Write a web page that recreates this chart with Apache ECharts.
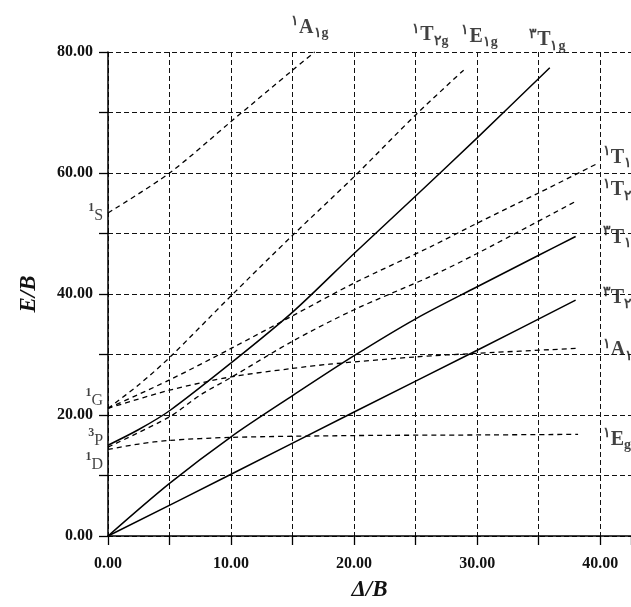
<!DOCTYPE html>
<html>
<head>
<meta charset="utf-8">
<script src="https://cdn.jsdelivr.net/npm/echarts@6/dist/echarts.min.js"></script>
<style>
  html, body { margin: 0; padding: 0; background: #fff; }
  #main { width: 631px; height: 607px; }
</style>
</head>
<body>
<div id="main"></div>
<script>
// solid lines (triplets) [Δ/B, E/B]
var t1gP = [[0, 15.0], [2.5, 17.6], [5, 20.7], [10, 28.6], [15, 37.0], [20, 46.7], [25, 56.2], [30, 65.8], [35.9, 77.4]];
var t1gF = [[0, 0], [5, 8.7], [10, 16.4], [15, 23.2], [20, 29.8], [25, 35.9], [30, 41.2], [35, 46.4], [38, 49.5]];
var t2gF = [[0, 0], [10, 10.2], [20, 20.5], [30, 30.7], [38, 39.0]];

// dashed lines (singlets)
var a1gS = [[0, 53.4], [5, 60.0], [10, 68.5], [15, 77.0], [16.8, 80]];
var t2gTop = [[0, 21.1], [2.5, 25.0], [5, 29.5], [10, 39.7], [15, 49.7], [20, 59.4], [25, 69.6], [28.9, 77.0]];
var t1gRight = [[0, 21.1], [5, 25.8], [10, 31.0], [15, 36.4], [20, 41.8], [26.2, 47.8], [30, 51.7], [35, 56.7], [39.8, 61.6]];
var t2gRight = [[0, 14.7], [5, 19.7], [7.5, 23.3], [10, 26.2], [15, 32.2], [20, 37.4], [26.2, 42.9], [30, 46.7], [38, 55.3]];
var a1gRight = [[0, 21.1], [5, 24.1], [10, 26.3], [15, 27.7], [18, 28.4], [25, 29.6], [30, 30.2], [38, 31.0]];
var egRight = [[0, 14.3], [2.5, 15.2], [5, 15.8], [10, 16.3], [20, 16.6], [30, 16.7], [38.2, 16.8]];

// term labels [x, y, text]
var topLabels = [
    [16.4, 84.0, '{sup|۱}{main|A}{sub|۱g}'],
    [26.2, 82.8, '{sup|۱}{main|T}{sub|۲g}'],
    [30.2, 82.5, '{sup|۱}{main|E}{sub|۱g}'],
    [35.7, 82.0, '{sup|۳}{main|T}{sub|۱g}']
];
var rightLabels = [
    [40.2, 62.5, '{sup|۱}{main|T}{sub|۱g}'],
    [40.2, 57.2, '{sup|۱}{main|T}{sub|۲g}'],
    [40.2, 49.3, '{sup|۳}{main|T}{sub|۱g}'],
    [40.2, 39.3, '{sup|۳}{main|T}{sub|۲g}'],
    [40.2, 30.7, '{sup|۱}{main|A}{sub|۱g}'],
    [40.2, 15.9, '{sup|۱}{main|E}{sub|g}']
];
var leftLabels = [
    [-0.4, 53.4, '{lsup|1}{lmain|S}'],
    [-0.4, 22.8, '{lsup|1}{lmain|G}'],
    [-0.4, 16.2, '{lsup|3}{lmain|P}'],
    [-0.4, 12.2, '{lsup|1}{lmain|D}']
];

var serif = '"Liberation Serif", "DejaVu Serif", serif';
var richStyle = {
    main: { fontFamily: serif, fontSize: 20, fontWeight: 'bold', color: '#111', lineHeight: 26, verticalAlign: 'middle' },
    sup: { fontFamily: serif, fontSize: 14, fontWeight: 'bold', color: '#111', verticalAlign: 'top' },
    sub: { fontFamily: serif, fontSize: 14, fontWeight: 'bold', color: '#111', verticalAlign: 'bottom' },
    lmain: { fontFamily: serif, fontSize: 16, color: '#111', lineHeight: 22, verticalAlign: 'bottom' },
    lsup: { fontFamily: serif, fontSize: 12, fontWeight: 'bold', color: '#111', verticalAlign: 'top' }
};

function solid(data) {
    return {
        type: 'line', data: data, symbol: 'none', smooth: 0.3, clip: false,
        lineStyle: { color: '#000', width: 1.5 }, silent: true
    };
}
function dashed(data) {
    return {
        type: 'line', data: data, symbol: 'none', smooth: 0.3, clip: false,
        lineStyle: { color: '#000', width: 1.3, type: [5, 4] }, silent: true
    };
}
function labels(data, align) {
    return {
        type: 'scatter', data: data, symbolSize: 0, clip: false, silent: true,
        label: {
            show: true, position: [0, 0], align: align, verticalAlign: 'middle',
            formatter: function (p) { return p.data[2]; },
            rich: richStyle
        }
    };
}

var chart = echarts.init(document.getElementById('main'));
chart.setOption({
    animation: false,
    backgroundColor: '#fff',
    grid: { left: 108, right: 0, top: 52, bottom: 71, outerBoundsMode: 'none' },
    xAxis: {
        type: 'value', min: 0, max: 42.5, interval: 5,
        name: 'Δ/B', nameLocation: 'middle', nameGap: 43,
        nameTextStyle: { fontFamily: serif, fontSize: 23, fontWeight: 'bold', fontStyle: 'italic', color: '#111' },
        axisLine: { lineStyle: { color: '#000', width: 1.5 } },
        axisTick: { length: 9, lineStyle: { color: '#000', width: 1.3 } },
        axisLabel: {
            margin: 20, fontFamily: serif, fontSize: 16, fontWeight: 'bold', color: '#111',
            formatter: function (v) { return v % 10 === 0 ? v.toFixed(2) : ''; }
        },
        splitLine: { show: true, lineStyle: { color: '#111', width: 1, type: [5, 3] } }
    },
    yAxis: {
        type: 'value', min: 0, max: 80, interval: 10,
        name: 'E/B', nameLocation: 'middle', nameGap: 67, nameRotate: 90,
        nameTextStyle: { fontFamily: serif, fontSize: 23, fontWeight: 'bold', fontStyle: 'italic', color: '#111' },
        axisLine: { show: true, lineStyle: { color: '#000', width: 1.5 } },
        axisTick: { show: true, length: 9, lineStyle: { color: '#000', width: 1.3 } },
        axisLabel: {
            margin: 15, fontFamily: serif, fontSize: 16, fontWeight: 'bold', color: '#111',
            formatter: function (v) { return v % 20 === 0 ? v.toFixed(2) : ''; }
        },
        splitLine: { show: true, lineStyle: { color: '#111', width: 1, type: [5, 3] } }
    },
    series: [
        solid(t1gP), solid(t1gF), solid(t2gF),
        dashed(a1gS), dashed(t2gTop), dashed(t1gRight), dashed(t2gRight), dashed(a1gRight), dashed(egRight),
        labels(topLabels, 'center'),
        labels(rightLabels, 'left'),
        labels(leftLabels, 'right')
    ]
});
</script>
</body>
</html>
